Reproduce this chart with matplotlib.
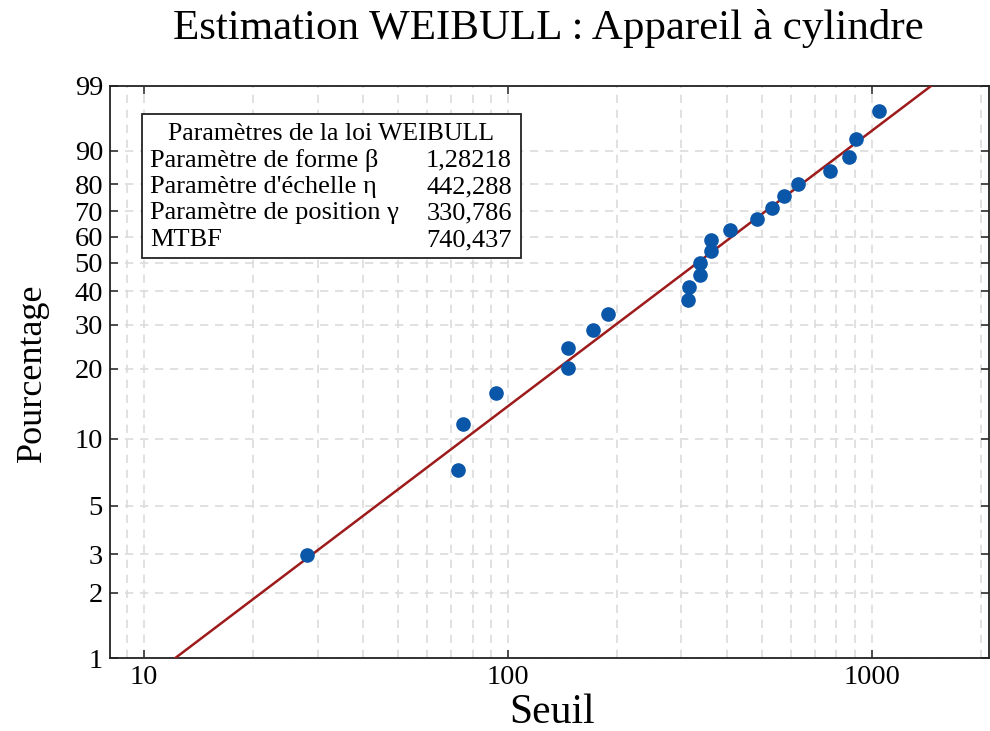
import numpy as np
import matplotlib
matplotlib.use("Agg")
import matplotlib.pyplot as plt
from matplotlib.patches import Rectangle
from matplotlib.ticker import LogLocator, NullFormatter, NullLocator

plt.rcParams['font.family'] = ['Liberation Serif', 'DejaVu Serif']

# points relevés (seuil, pourcentage cumulé)
seuil = [28.1, 72.9, 75.1, 92.7, 146.2, 146.2, 170.9, 188.4, 312.3, 315.0, 337.1, 337.1,
         360.6, 360.6, 408.6, 482.8, 532.3, 574.4, 625.9, 769.0, 865.6, 903.1, 1046.6]
pourcentage = [2.99, 7.26, 11.54, 15.81, 20.09, 24.36, 28.63, 32.91, 37.18, 41.45, 45.73, 50.00,
               54.27, 58.55, 62.82, 67.09, 71.37, 75.64, 79.91, 84.19, 88.46, 92.74, 97.01]

# droite de Weibull (extrémités)
droite_x = [12.2, 1455.0]
droite_pct = [1.0, 99.0]

y_ticks = [1, 2, 3, 5, 10, 20, 30, 40, 50, 60, 70, 80, 90, 99]
x_ticks = [10, 100, 1000]

params = ['Paramètre de forme β', "Paramètre d'échelle η", 'Paramètre de position γ', 'MTBF']
valeurs = ['1,28218', '442,288', '330,786', '740,437']


def fwd(p):
    p = np.clip(np.asarray(p, dtype=float), 1e-6, 100 - 1e-6) / 100.0
    return np.log(-np.log(1 - p))


def inv(y):
    return 100.0 * (1 - np.exp(-np.exp(y)))


W, H = 990, 731
fx = lambda px: px / W
fy = lambda py: 1 - py / H

fig = plt.figure(figsize=(W / 100, H / 100), dpi=100)
ax = fig.add_axes([fx(110), fy(658), (989 - 110) / W, (658 - 86) / H])

ax.set_xscale('log')
ax.set_yscale('function', functions=(fwd, inv))
ax.set_xlim(8.07, 2100)
ax.set_ylim(1, 99)

ax.set_xticks(x_ticks)
ax.set_xticklabels([str(v) for v in x_ticks])
ax.xaxis.set_minor_locator(LogLocator(base=10, subs=np.arange(2, 10)))
ax.xaxis.set_minor_formatter(NullFormatter())
ax.set_yticks(y_ticks)
ax.set_yticklabels([str(v) for v in y_ticks])
ax.yaxis.set_minor_locator(NullLocator())

ax.tick_params(which='major', direction='in', top=True, right=True, length=6, width=1.2,
               color='#333333', labelsize=20.5, pad=5)
ax.tick_params(which='minor', length=0)

grid_kw = dict(color='#dcdcdc', linestyle=(0, (5, 4)), linewidth=1.2)
ax.grid(True, which='both', axis='x', **grid_kw)
ax.grid(True, which='major', axis='y', **grid_kw)
ax.set_axisbelow(True)
for s in ax.spines.values():
    s.set_linewidth(1.3)
    s.set_color('#222222')

ax.plot(droite_x, droite_pct, color='#9e1b1b', lw=1.8, zorder=3)
ax.plot(seuil, pourcentage, 'o', color='#0a56a8', ms=9.5, mec='#0a56a8', zorder=4)

# encadré des paramètres
box = Rectangle((fx(142), fy(258)), fx(521) - fx(142), fy(114) - fy(258), transform=fig.transFigure,
                facecolor='white', edgecolor='#222222', lw=1.3, zorder=5)
fig.patches.append(box)
fig.text(fx(331.5), fy(134), 'Paramètres de la loi WEIBULL', ha='center', va='center', fontsize=18.5, zorder=6)
rows_y = [160, 187, 213, 240]
for ry, p, v in zip(rows_y, params, valeurs):
    fig.text(fx(150), fy(ry), p, ha='left', va='center', fontsize=19, zorder=6)
    fig.text(fx(512), fy(ry), v, ha='right', va='center', fontsize=19, zorder=6)

fig.text(fx(548), fy(29), 'Estimation WEIBULL : Appareil à cylindre', ha='center', va='center', fontsize=31)
fig.text(fx(32), fy(373), 'Pourcentage', rotation=90, ha='center', va='center', fontsize=26)
fig.text(fx(552), fy(713), 'Seuil', ha='center', va='center', fontsize=30)

fig.savefig('out.png', dpi=100)
